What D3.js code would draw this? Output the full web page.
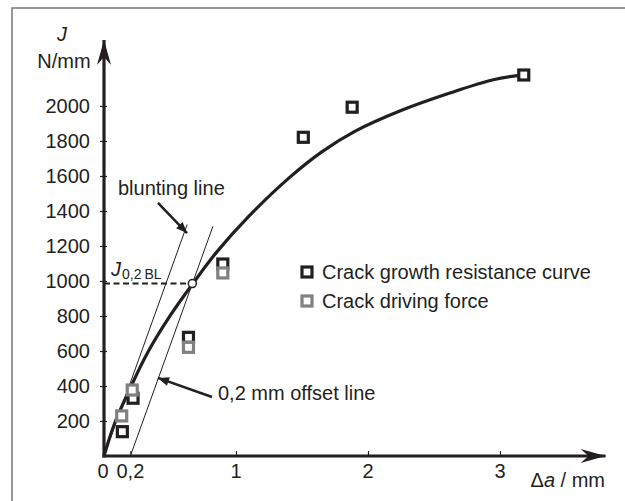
<!DOCTYPE html>
<html>
<head>
<meta charset="utf-8">
<script src="https://cdn.jsdelivr.net/npm/d3@7"></script>
<style>
  body { margin: 0; background: #fff; }
  svg text { font-family: "Liberation Sans", Arial, sans-serif; fill: #231f20; }
</style>
</head>
<body>
<div id="mainDiv"></div>
<script>
// Values
let resistanceDa = [0.139, 0.22, 0.64, 0.90, 1.51, 1.88, 3.18];
let resistanceJ = [139, 330, 678, 1097, 1821, 1993, 2177];
let drivingDa = [0.134, 0.214, 0.64, 0.90];
let drivingJ = [229, 377, 621, 1046];

// fitted crack growth resistance curve
let curveDa = [0, 0.08, 0.2, 0.33, 0.5, 0.674, 0.85, 1.1, 1.4, 1.65, 1.9, 2.25, 2.62, 2.95, 3.18];
let curveJ = [0, 185, 390, 590, 800, 986, 1162, 1372, 1588, 1738, 1855, 1974, 2074, 2150, 2178];

let bluntingDa = [0, 0.63];
let bluntingJ = [0, 1323];
let offsetDa = [0.2, 0.825];
let offsetJ = [0, 1312];
let j02bl = { da: 0.669, J: 985 };

let xTicks = [0, 0.2, 1, 2, 3];
let yTicks = [200, 400, 600, 800, 1000, 1200, 1400, 1600, 1800, 2000];
let legendLabels = ["Crack growth resistance curve", "Crack driving force"];

const ink = "#231f20";
const grey = "#808080";
const chartSize = { width: 625, height: 501 };

let x = d3.scaleLinear().domain([0, 3.8]).range([104, 605.6]);
let y = d3.scaleLinear().domain([0, 2377]).range([456, 40]);

const svg = d3.select("#mainDiv")
  .append("svg")
  .attr("width", chartSize.width)
  .attr("height", chartSize.height);

// frame (only top and left edges are visible in the crop)
svg.append("rect")
  .attr("x", 12).attr("y", 8)
  .attr("width", 700).attr("height", 600)
  .attr("fill", "none")
  .attr("stroke", "#777")
  .attr("stroke-width", 1.5);

const defs = svg.append("defs");
defs.append("marker")
  .attr("id", "axisHead")
  .attr("markerUnits", "userSpaceOnUse")
  .attr("viewBox", "-26 -8 27 16")
  .attr("refX", 0).attr("refY", 0)
  .attr("markerWidth", 27).attr("markerHeight", 16)
  .attr("orient", "auto")
  .append("path")
  .attr("d", "M0,0 L-25,-7 L-17,0 L-25,7 Z")
  .attr("fill", ink);

defs.append("marker")
  .attr("id", "noteHead")
  .attr("markerUnits", "userSpaceOnUse")
  .attr("viewBox", "-12 -6 13 12")
  .attr("refX", 0).attr("refY", 0)
  .attr("markerWidth", 13).attr("markerHeight", 12)
  .attr("orient", "auto")
  .append("path")
  .attr("d", "M0,0 L-11,-4.5 L-11,4.5 Z")
  .attr("fill", ink);

// thin construction lines
let thin = d3.line().x(d => x(d[0])).y(d => y(d[1]));
svg.append("path")
  .attr("d", thin(d3.zip(bluntingDa, bluntingJ)))
  .attr("stroke", ink).attr("stroke-width", 1).attr("fill", "none");
svg.append("path")
  .attr("d", thin(d3.zip(offsetDa, offsetJ)))
  .attr("stroke", ink).attr("stroke-width", 1).attr("fill", "none");

// dashed line to J0,2BL
svg.append("line")
  .attr("x1", x(0)).attr("x2", x(j02bl.da))
  .attr("y1", y(j02bl.J)).attr("y2", y(j02bl.J))
  .attr("stroke", ink)
  .attr("stroke-width", 2)
  .attr("stroke-dasharray", "6,3.5");

// fitted curve
let curveLine = d3.line()
  .x(d => x(d[0]))
  .y(d => y(d[1]))
  .curve(d3.curveCatmullRom.alpha(0.5));
svg.append("path")
  .attr("d", curveLine(d3.zip(curveDa, curveJ)))
  .attr("fill", "none")
  .attr("stroke", ink)
  .attr("stroke-width", 3.2);

// axes
svg.append("line")
  .attr("x1", x(0)).attr("y1", y(0) + 1.5)
  .attr("x2", x(0)).attr("y2", y.range()[1])
  .attr("stroke", ink).attr("stroke-width", 3.2)
  .attr("marker-end", "url(#axisHead)");
svg.append("line")
  .attr("x1", x(0) - 1.5).attr("y1", y(0))
  .attr("x2", x.range()[1]).attr("y2", y(0))
  .attr("stroke", ink).attr("stroke-width", 3.2)
  .attr("marker-end", "url(#axisHead)");

let xAxis = g => g
  .attr("transform", `translate(0,${y(0)})`)
  .call(d3.axisTop(x)
    .tickValues(xTicks.filter(d => d > 0))
    .tickSize(5)
    .tickFormat(""))
  .call(g => g.select(".domain").remove())
  .call(g => g.selectAll(".tick line").attr("stroke", ink).attr("stroke-width", 1.2));

let yAxis = g => g
  .attr("transform", `translate(${x(0) + 3},0)`)
  .call(d3.axisLeft(y)
    .tickValues(yTicks)
    .tickSize(7)
    .tickFormat(""))
  .call(g => g.select(".domain").remove())
  .call(g => g.selectAll(".tick line").attr("stroke", ink).attr("stroke-width", 1.2));

svg.append("g").call(xAxis);
svg.append("g").call(yAxis);

svg.append("g")
  .selectAll("text")
  .data(xTicks)
  .join("text")
  .attr("x", d => x(d) + (d === 0 ? -1 : 0))
  .attr("y", y(0) + 22)
  .attr("text-anchor", "middle")
  .attr("font-size", 20)
  .text(d => String(d).replace(".", ","));

svg.append("g")
  .selectAll("text")
  .data(yTicks)
  .join("text")
  .attr("x", 90)
  .attr("y", d => y(d))
  .attr("dy", "0.36em")
  .attr("text-anchor", "end")
  .attr("font-size", 20)
  .text(d => d);

// axis titles
svg.append("text")
  .attr("x", 62).attr("y", 41)
  .attr("text-anchor", "middle")
  .attr("font-size", 20)
  .attr("font-style", "italic")
  .text("J");
svg.append("text")
  .attr("x", 64).attr("y", 68)
  .attr("text-anchor", "middle")
  .attr("font-size", 20)
  .text("N/mm");

let xTitle = svg.append("text")
  .attr("x", 605).attr("y", 487)
  .attr("text-anchor", "end")
  .attr("font-size", 20);
xTitle.append("tspan").text("Δ");
xTitle.append("tspan").attr("font-style", "italic").text("a");
xTitle.append("tspan").text(" / mm");

// data squares
function drawSquares(das, js, color) {
  svg.append("g")
    .selectAll("rect")
    .data(d3.zip(das, js))
    .join("rect")
    .attr("x", d => x(d[0]) - 5)
    .attr("y", d => y(d[1]) - 5)
    .attr("width", 10)
    .attr("height", 10)
    .attr("fill", "#fff")
    .attr("stroke", color)
    .attr("stroke-width", 3.2);
}
drawSquares(resistanceDa, resistanceJ, ink);
drawSquares(drivingDa, drivingJ, grey);

// J0,2BL point
svg.append("circle")
  .attr("cx", x(j02bl.da))
  .attr("cy", y(j02bl.J))
  .attr("r", 4)
  .attr("fill", "#fff")
  .attr("stroke", ink)
  .attr("stroke-width", 1.5);

let jLabel = svg.append("text")
  .attr("x", 111).attr("y", y(j02bl.J) - 8)
  .attr("font-size", 20);
jLabel.append("tspan").attr("font-style", "italic").text("J");
jLabel.append("tspan").attr("font-size", 14).attr("dy", 3).attr("dx", 1).text("0,2");
jLabel.append("tspan").attr("font-size", 14).attr("dx", 3).text("BL");

// annotations
svg.append("text")
  .attr("x", 118).attr("y", 195)
  .attr("font-size", 20)
  .text("blunting line");
svg.append("line")
  .attr("x1", x(0.409)).attr("y1", y(1446))
  .attr("x2", x(0.629)).attr("y2", y(1274))
  .attr("stroke", ink).attr("stroke-width", 2.5)
  .attr("marker-end", "url(#noteHead)");

svg.append("text")
  .attr("x", 218).attr("y", 400)
  .attr("font-size", 20)
  .text("0,2 mm offset line");
svg.append("line")
  .attr("x1", x(0.818)).attr("y1", y(337))
  .attr("x2", x(0.409)).attr("y2", y(446))
  .attr("stroke", ink).attr("stroke-width", 2.5)
  .attr("marker-end", "url(#noteHead)");

// legend
let legend = svg.append("g")
  .selectAll("g")
  .data(legendLabels)
  .join("g")
  .attr("transform", (d, i) => `translate(307,${272 + i * 29})`);
legend.append("rect")
  .attr("x", -5).attr("y", -5)
  .attr("width", 10).attr("height", 10)
  .attr("fill", "#fff")
  .attr("stroke", (d, i) => i === 0 ? ink : grey)
  .attr("stroke-width", 3.2);
legend.append("text")
  .attr("x", 15)
  .attr("dy", "0.36em")
  .attr("font-size", 20)
  .text(d => d);
</script>
</body>
</html>
